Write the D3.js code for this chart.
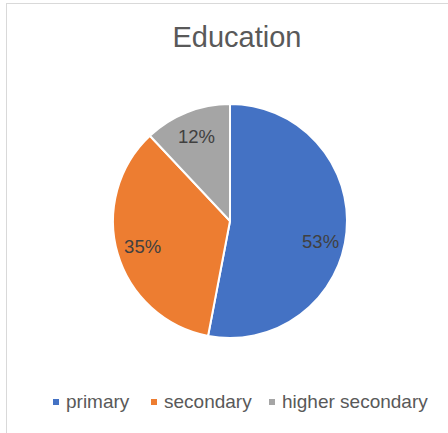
<!DOCTYPE html>
<html><head><meta charset="utf-8">
<script src="https://cdn.jsdelivr.net/npm/d3@7"></script>
<style>html,body{margin:0;padding:0;background:#fff;}svg{display:block;}</style>
</head><body>
<script>
const categories = ["primary", "secondary", "higher secondary"];
const values = [53, 35, 12];
const colors = ["#4472C4", "#ED7D31", "#A5A5A5"];
const title = "Education";

const W = 448, H = 433;
const svg = d3.select("body").append("svg").attr("width", W).attr("height", H);
svg.append("rect").attr("x", 6.5).attr("y", 3.5).attr("width", W).attr("height", H)
  .attr("fill", "#fff").attr("stroke", "#d9d9d9").attr("stroke-width", 1);

const font = "Liberation Sans, Arial, Helvetica, sans-serif";
svg.append("text").attr("x", 237).attr("y", 47).attr("text-anchor", "middle")
  .attr("font-family", font).attr("font-size", 29).attr("fill", "#595959").text(title);

const cx = 230, cy = 221, r = 117;
const pie = d3.pie().sort(null).value(d => d)(values);
const arc = d3.arc().innerRadius(0).outerRadius(r);
const labelArc = d3.arc().innerRadius(91).outerRadius(91);
const color = d3.scaleOrdinal().domain(categories).range(colors);
const g = svg.append("g").attr("transform", `translate(${cx},${cy})`);
g.selectAll("path").data(pie).join("path")
  .attr("d", arc).attr("fill", (d, i) => color(categories[i]))
  .attr("stroke", "#fff").attr("stroke-width", 2).attr("stroke-linejoin", "round");
const total = d3.sum(values);
g.selectAll("text").data(pie).join("text")
  .attr("transform", d => {
    const [x, y] = labelArc.centroid(d);
    // Excel best-fit places right-side label slightly lower
    return `translate(${x},${x > 60 ? y + 12 : y})`;
  })
  .attr("text-anchor", "middle").attr("dy", "0.35em")
  .attr("font-family", font).attr("font-size", 18.5).attr("fill", "#404040")
  .text(d => Math.round(d.data / total * 100) + "%");

// legend
const legendX = [53, 151, 269];
const lg = svg.append("g");
categories.forEach((c, i) => {
  lg.append("rect").attr("x", legendX[i]).attr("y", 399).attr("width", 6).attr("height", 6).attr("fill", color(c));
  lg.append("text").attr("x", legendX[i] + 13).attr("y", 407.5)
    .attr("font-family", font).attr("font-size", 19).attr("fill", "#595959").text(c);
});
</script>
</body></html>
